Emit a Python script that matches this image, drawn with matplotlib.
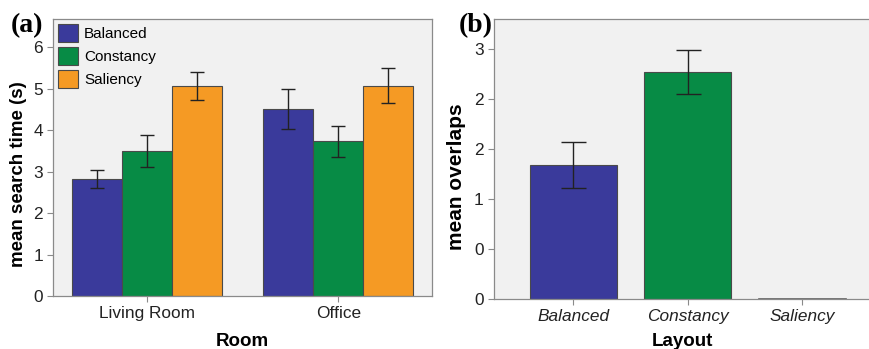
import matplotlib
matplotlib.use("Agg")
import matplotlib.pyplot as plt
import numpy as np
from matplotlib.patches import Patch

plt.rcParams['font.family'] = ['Liberation Sans', 'DejaVu Sans']

# Panel (a): mean search time per room and layout
rooms = ["Living Room", "Office"]
layouts = ["Balanced", "Constancy", "Saliency"]
search_time = {
    "Balanced": [2.82, 4.51],
    "Constancy": [3.49, 3.73],
    "Saliency": [5.06, 5.07],
}
search_err = {
    "Balanced": [0.21, 0.49],
    "Constancy": [0.38, 0.37],
    "Saliency": [0.34, 0.42],
}

# Panel (b): mean overlaps per layout
overlap_layouts = ["Balanced", "Constancy", "Saliency"]
overlaps = [1.34, 2.27, 0.0]
overlaps_err = [0.23, 0.22, 0.0]
overlap_ticks = [0, 0.5, 1.0, 1.5, 2.0, 2.5]
overlap_tick_labels = ["0", "0", "1", "2", "2", "3"]

colors = {"Balanced": "#3a3a9b", "Constancy": "#078b45", "Saliency": "#f59a24"}
bg = "#f1f1f1"
edge = "#4a4a4a"
spine_c = "#8a8a8a"
tick_fs = 12.4
label_fs = 13.5

fig = plt.figure(figsize=(8.7, 3.49), dpi=100)

# ---- Panel (a)
ax1 = fig.add_axes([0.0613, 0.1519, 0.4353, 0.7928])
ax1.set_facecolor(bg)
x = np.arange(len(rooms))
w = 0.262
for i, lay in enumerate(layouts):
    ax1.bar(x + (i - 1) * w, search_time[lay], width=w, color=colors[lay],
            edgecolor=edge, linewidth=0.8, zorder=2)
    ax1.errorbar(x + (i - 1) * w, search_time[lay], yerr=search_err[lay],
                 fmt="none", ecolor="#222222", elinewidth=1.0, capsize=5,
                 capthick=1.0, zorder=3)
ax1.set_xlim(-0.49, 1.49)
ax1.set_ylim(0, 6.67)
ax1.set_yticks(range(0, 7))
ax1.set_xticks(x)
ax1.set_xticklabels(rooms)
ax1.set_ylabel("mean search time (s)", fontsize=label_fs, fontweight="bold")
ax1.yaxis.set_label_coords(-0.07, 0.44)
ax1.set_xlabel("Room", fontsize=label_fs, fontweight="bold", labelpad=8)
ax1.tick_params(axis="both", labelsize=tick_fs, color=spine_c, length=4, width=0.8,
                labelcolor="#222222")
for s in ax1.spines.values():
    s.set_color(spine_c)
    s.set_linewidth(0.9)
handles = [Patch(facecolor=colors[l], edgecolor=edge, linewidth=0.8, label=l) for l in layouts]
leg = ax1.legend(handles=handles, loc="upper left", frameon=False, fontsize=11,
                 handlelength=1.3, handleheight=1.4, handletextpad=0.4,
                 labelspacing=0.35, borderaxespad=0.15, borderpad=0.15)
fig.text(0.012, 0.928, "(a)", fontsize=20, fontweight="bold",
         family=["Liberation Serif", "DejaVu Serif"], va="center")

# ---- Panel (b)
ax2 = fig.add_axes([0.5678, 0.1433, 0.4322, 0.8023])
ax2.set_facecolor(bg)
xb = np.arange(len(overlap_layouts))
ax2.bar(xb, overlaps, width=0.76, color=[colors[l] for l in overlap_layouts],
        edgecolor=edge, linewidth=0.8, zorder=2)
ax2.errorbar(xb[:2], overlaps[:2], yerr=overlaps_err[:2], fmt="none",
             ecolor="#222222", elinewidth=1.0, capsize=9, capthick=1.0, zorder=3)
ax2.plot([xb[2] - 0.38, xb[2] + 0.38], [overlaps[2], overlaps[2]], color="#666666",
         linewidth=1.2, zorder=3)
ax2.set_xlim(-0.69, 2.59)
ax2.set_ylim(0, 2.8)
ax2.set_yticks(overlap_ticks)
ax2.set_yticklabels(overlap_tick_labels)
ax2.set_xticks(xb)
ax2.set_xticklabels(overlap_layouts, fontstyle="italic")
ax2.set_ylabel("mean overlaps", fontsize=15, fontweight="bold")
ax2.yaxis.set_label_coords(-0.075, 0.438)
ax2.set_xlabel("Layout", fontsize=label_fs, fontweight="bold", labelpad=6)
ax2.tick_params(axis="both", labelsize=tick_fs, color=spine_c, length=4, width=0.8,
                labelcolor="#222222")
for s in ax2.spines.values():
    s.set_color(spine_c)
    s.set_linewidth(0.9)
ax2.spines["right"].set_visible(False)
fig.text(0.527, 0.928, "(b)", fontsize=20, fontweight="bold",
         family=["Liberation Serif", "DejaVu Serif"], va="center")

fig.savefig("out.png", dpi=100, facecolor="white")
